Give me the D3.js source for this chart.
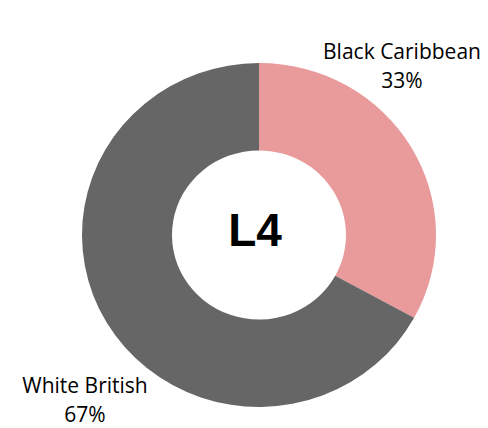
<!DOCTYPE html>
<html>
<head>
<meta charset="utf-8">
<script src="https://cdn.jsdelivr.net/npm/d3@7"></script>
<style>
  body { margin: 0; background: #fff; }
  text { font-family: "Open Sans", sans-serif; }
</style>
</head>
<body>
<div id="chart"></div>
<script>
const categories = ["Black Caribbean", "White British"];
const values = [33, 67];
const centreLabel = "L4";

const width = 488, height = 428;
const cx = 259, cy = 235, outerR = 177, innerR = 87;

const svg = d3.select("#chart")
    .append("svg")
    .attr("width", width)
    .attr("height", height);

const colour = d3.scaleOrdinal()
    .domain(categories)
    .range(["#e99a9a", "#666666"]);

const pie = d3.pie().sort(null).value(d => d.value);
const arc = d3.arc().innerRadius(innerR).outerRadius(outerR);

const data = categories.map((c, i) => ({ name: c, value: values[i] }));

// slightly squashed vertically like the original
const g = svg.append("g")
    .attr("transform", `translate(${cx},${cy}) scale(1,${172 / 177})`);

g.selectAll("path")
    .data(pie(data))
    .join("path")
    .attr("d", arc)
    .attr("fill", d => colour(d.data.name));

svg.append("text")
    .attr("x", 255)
    .attr("y", 246)
    .attr("text-anchor", "middle")
    .style("font-family", "'Liberation Sans', Arial, sans-serif")
    .style("font-weight", "bold")
    .style("font-size", "46px")
    .text(centreLabel);

// outside labels
const labelPos = [[402, 59], [85, 393]];
const labels = svg.selectAll(".label")
    .data(data)
    .join("text")
    .attr("class", "label")
    .attr("text-anchor", "middle")
    .style("font-size", "21px")
    .attr("fill", "#000");

labels.append("tspan")
    .attr("x", (d, i) => labelPos[i][0])
    .attr("y", (d, i) => labelPos[i][1])
    .text(d => d.name);

labels.append("tspan")
    .attr("x", (d, i) => labelPos[i][0])
    .attr("y", (d, i) => labelPos[i][1] + 29)
    .text(d => d.value + "%");
</script>
</body>
</html>
